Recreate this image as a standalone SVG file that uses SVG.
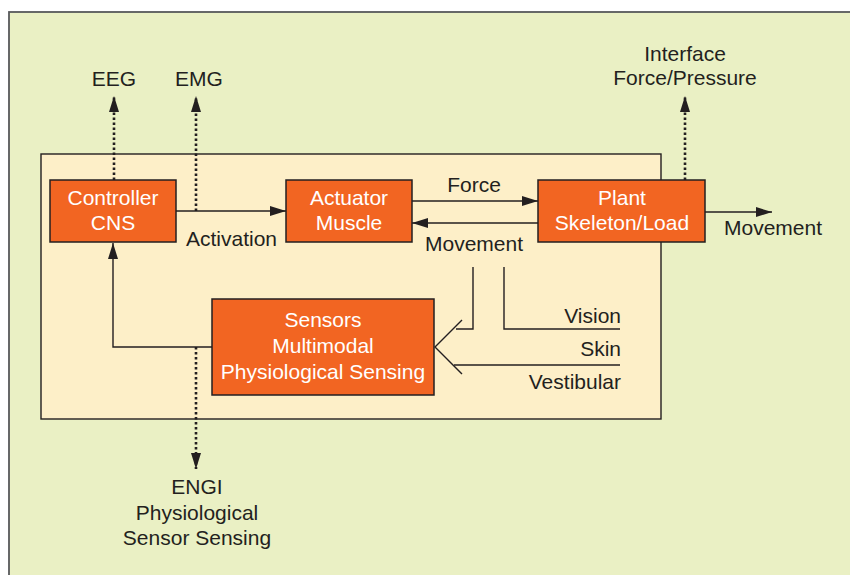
<svg xmlns="http://www.w3.org/2000/svg" width="850" height="575" viewBox="0 0 850 575">
<defs>
<style>
text{font-family:"Liberation Sans",Arial,sans-serif;font-size:21px;fill:#231f20}
.w{fill:#ffffff;text-anchor:middle}
.c{text-anchor:middle}
.e{text-anchor:end}
.box{fill:#f26522;stroke:#231f20;stroke-width:1.5}
.ln{fill:none;stroke:#231f20;stroke-width:1.4}
.dot{fill:none;stroke:#231f20;stroke-width:2.6;stroke-dasharray:2.6 2.4}
</style>
<marker id="ah" markerUnits="userSpaceOnUse" markerWidth="16" markerHeight="10" refX="16" refY="5" orient="auto" viewBox="0 0 16 10">
<path d="M0,0 L16,5 L0,10 z" fill="#231f20"/>
</marker>
</defs>
<rect x="0" y="0" width="850" height="575" fill="#ffffff"/>
<rect x="9" y="12" width="860" height="580" fill="#eaf0c4" stroke="#58595b" stroke-width="1.8"/>
<rect x="41" y="154" width="620" height="265" fill="#fdefc8" stroke="#231f20" stroke-width="1.4"/>

<g id="connectors">
<line class="dot" x1="114" y1="180" x2="114" y2="96" marker-end="url(#ah)"/>
<line class="dot" x1="196" y1="211" x2="196" y2="96" marker-end="url(#ah)"/>
<line class="dot" x1="685" y1="180" x2="685" y2="96" marker-end="url(#ah)"/>
<line class="dot" x1="196" y1="347" x2="196" y2="469" marker-end="url(#ah)"/>
<line class="ln" x1="176" y1="211" x2="286" y2="211" marker-end="url(#ah)"/>
<line class="ln" x1="412" y1="201" x2="538" y2="201" marker-end="url(#ah)"/>
<line class="ln" x1="538" y1="223" x2="412" y2="223" marker-end="url(#ah)"/>
<line class="ln" x1="705" y1="212" x2="772" y2="212" marker-end="url(#ah)"/>
<polyline class="ln" points="212,347 113,347 113,243" marker-end="url(#ah)"/>
<polyline class="ln" points="473,267 473,329 456,329"/>
<polyline class="ln" points="504,267 504,329 620,329"/>
<line class="ln" x1="454" y1="365" x2="620" y2="365"/>
<polyline class="ln" points="462,320 435,347 462,374"/>
</g>

<g id="controller">
<rect class="box" x="50" y="180" width="126" height="62"/>
<text class="w" x="113" y="205">Controller</text>
<text class="w" x="113" y="230">CNS</text>
</g>
<g id="actuator">
<rect class="box" x="286" y="180" width="126" height="62"/>
<text class="w" x="349" y="205">Actuator</text>
<text class="w" x="349" y="230">Muscle</text>
</g>
<g id="plant">
<rect class="box" x="538" y="180" width="167" height="62"/>
<text class="w" x="622" y="205">Plant</text>
<text class="w" x="622" y="230">Skeleton/Load</text>
</g>
<g id="sensors">
<rect class="box" x="212" y="299" width="222" height="96"/>
<text class="w" x="323" y="327">Sensors</text>
<text class="w" x="323" y="353">Multimodal</text>
<text class="w" x="323" y="379">Physiological Sensing</text>
</g>

<g id="labels">
<text class="c" x="114" y="86">EEG</text>
<text class="c" x="199" y="86">EMG</text>
<text class="c" x="685" y="61">Interface</text>
<text class="c" x="685" y="85">Force/Pressure</text>
<text x="186" y="246">Activation</text>
<text class="c" x="474" y="192">Force</text>
<text class="c" x="474" y="251">Movement</text>
<text x="724" y="235">Movement</text>
<text class="e" x="621" y="323">Vision</text>
<text class="e" x="621" y="356">Skin</text>
<text class="e" x="621" y="389">Vestibular</text>
<text class="c" x="197" y="494">ENGI</text>
<text class="c" x="197" y="520">Physiological</text>
<text class="c" x="197" y="545">Sensor Sensing</text>
</g>
</svg>
